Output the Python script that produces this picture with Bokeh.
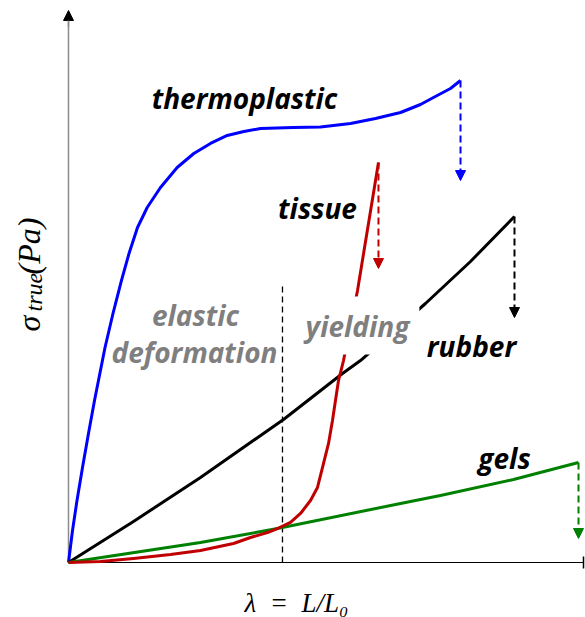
import numpy as np
from bokeh.plotting import figure
from bokeh.models import Range1d, Label, Arrow, NormalHead
from bokeh.embed import file_html
from bokeh.resources import INLINE

# ---- data (lambda and stress in arbitrary units, axes run 0..10) ----
thermo_x = [0, 0.078, 0.165, 0.272, 0.388, 0.505, 0.709, 0.864, 1.029, 1.175, 1.340,
            1.528, 1.786, 2.110, 2.433, 2.757, 3.082, 3.404, 3.728, 4.369, 4.893, 5.476,
            5.961, 6.447, 6.835, 7.087, 7.417, 7.612]
thermo_y = [0, 0.580, 1.123, 1.721, 2.337, 2.935, 3.895, 4.511, 5.109, 5.598, 6.069,
            6.431, 6.793, 7.156, 7.409, 7.591, 7.736, 7.808, 7.862, 7.880, 7.889, 7.953,
            8.043, 8.152, 8.297, 8.424, 8.587, 8.732]
thermo_break = 6.920

tissue_x = [0, 0.621, 1.262, 1.981, 2.563, 3.204, 3.534, 3.864, 4.058, 4.311, 4.505, 4.699,
            4.835, 4.951, 5.049, 5.126, 5.184, 5.243, 5.340, 5.612, 6.019]
tissue_y = [0, 0.018, 0.072, 0.145, 0.217, 0.344, 0.453, 0.543, 0.616, 0.725, 0.888, 1.123,
            1.359, 1.793, 2.156, 2.572, 2.935, 3.297, 3.659, 4.928, 7.246]
tissue_break = 5.326

rubber_x = [0, 1.262, 2.563, 4.175, 5.320, 5.670, 6.932, 7.806, 8.660]
rubber_y = [0, 0.743, 1.540, 2.591, 3.424, 3.659, 4.692, 5.453, 6.268]
rubber_break = 4.438

gels_x = [0, 2.563, 4.058, 6.447, 7.223, 8.641, 9.903]
gels_y = [0, 0.362, 0.616, 1.069, 1.214, 1.504, 1.812]
gels_break = 0.435

yield_x = 4.155
yield_top = 5.05

x_end = 10.0
y_end = 10.0

# ---- helpers: reference pixel -> data (for annotation placement) ----
def px(xp):
    return (xp - 68) / 51.5

def py(yp):
    return (562 - yp) / 55.2

p = figure(width=585, height=617, output_backend="svg", toolbar_location=None,
           x_range=Range1d(px(0), px(585)), y_range=Range1d(py(617), py(0)),
           min_border=0, background_fill_color="white", border_fill_color="white")
p.outline_line_color = None
p.grid.visible = False
p.axis.visible = False

# axes drawn in data space: x axis (black, end tick), y axis (gray, arrow)
p.line([0, x_end], [0, 0], line_color="black", line_width=1.2)
p.line([x_end, x_end], [py(556), py(568)], line_color="black", line_width=1.5)
p.line([0, 0], [0, y_end - 0.1], line_color="#8c8c8c", line_width=1.5)
p.add_layout(Arrow(end=NormalHead(size=10, fill_color="black", line_color="black"),
                   x_start=0, y_start=y_end - 0.3, x_end=0, y_end=y_end,
                   line_color="#8c8c8c", line_width=1.5))

# yield line
p.line([yield_x, yield_x], [0, yield_top], line_color="black", line_width=1.3, line_dash="6 4")

series = [
    (thermo_x, thermo_y, thermo_break, "#0000ff"),
    (rubber_x, rubber_y, rubber_break, "black"),
    (gels_x, gels_y, gels_break, "#008000"),
    (tissue_x, tissue_y, tissue_break, "#c00000"),
]
for xs, ys, brk, c in series:
    p.line(xs, ys, line_color=c, line_width=3, line_join="round")
    p.add_layout(Arrow(end=NormalHead(size=10, fill_color=c, line_color=c),
                       x_start=xs[-1], y_start=ys[-1], x_end=xs[-1], y_end=brk,
                       line_color=c, line_width=2, line_dash="7 4"))

def lab(text, xp, yp, color="black", bg=None, pad=0, size="28px"):
    kw = {}
    if bg:
        kw = dict(background_fill_color=bg, padding=pad)
    p.add_layout(Label(x=px(xp), y=py(yp), text=text, text_font="Open Sans",
                       text_font_style="bold italic", text_font_size=size,
                       text_color=color, text_align="center", text_baseline="alphabetic", **kw))

lab("thermoplastic", 244, 97)
lab("tissue", 317, 207)
lab("elastic", 195, 314, color="#7f7f7f")
lab("deformation", 194, 351, color="#7f7f7f")
lab("yielding", 357, 325, color="#7f7f7f", bg="white", pad=10)
lab("rubber", 471, 345)
lab("gels", 504, 457)

# axis titles
p.add_layout(Label(x=px(296), y=py(602), text="λ\u2002=\u2002L/L₀", text_font="Liberation Serif",
                   text_font_style="italic", text_font_size="27px", text_color="black",
                   text_align="center", text_baseline="alphabetic"))

for txt, cx, sy, fs in [("σ", 28, 331, "32px"), ("true", 33, 311, "24px"), ("(Pa)", 28, 274, "32px")]:
    p.add_layout(Label(x=px(cx), y=py(sy), text=txt, text_font="Liberation Serif",
                       text_font_style="italic", text_font_size=fs, text_color="black",
                       angle=np.pi / 2, text_align="left", text_baseline="middle"))

open("out.html", "w").write(file_html(p, INLINE))
